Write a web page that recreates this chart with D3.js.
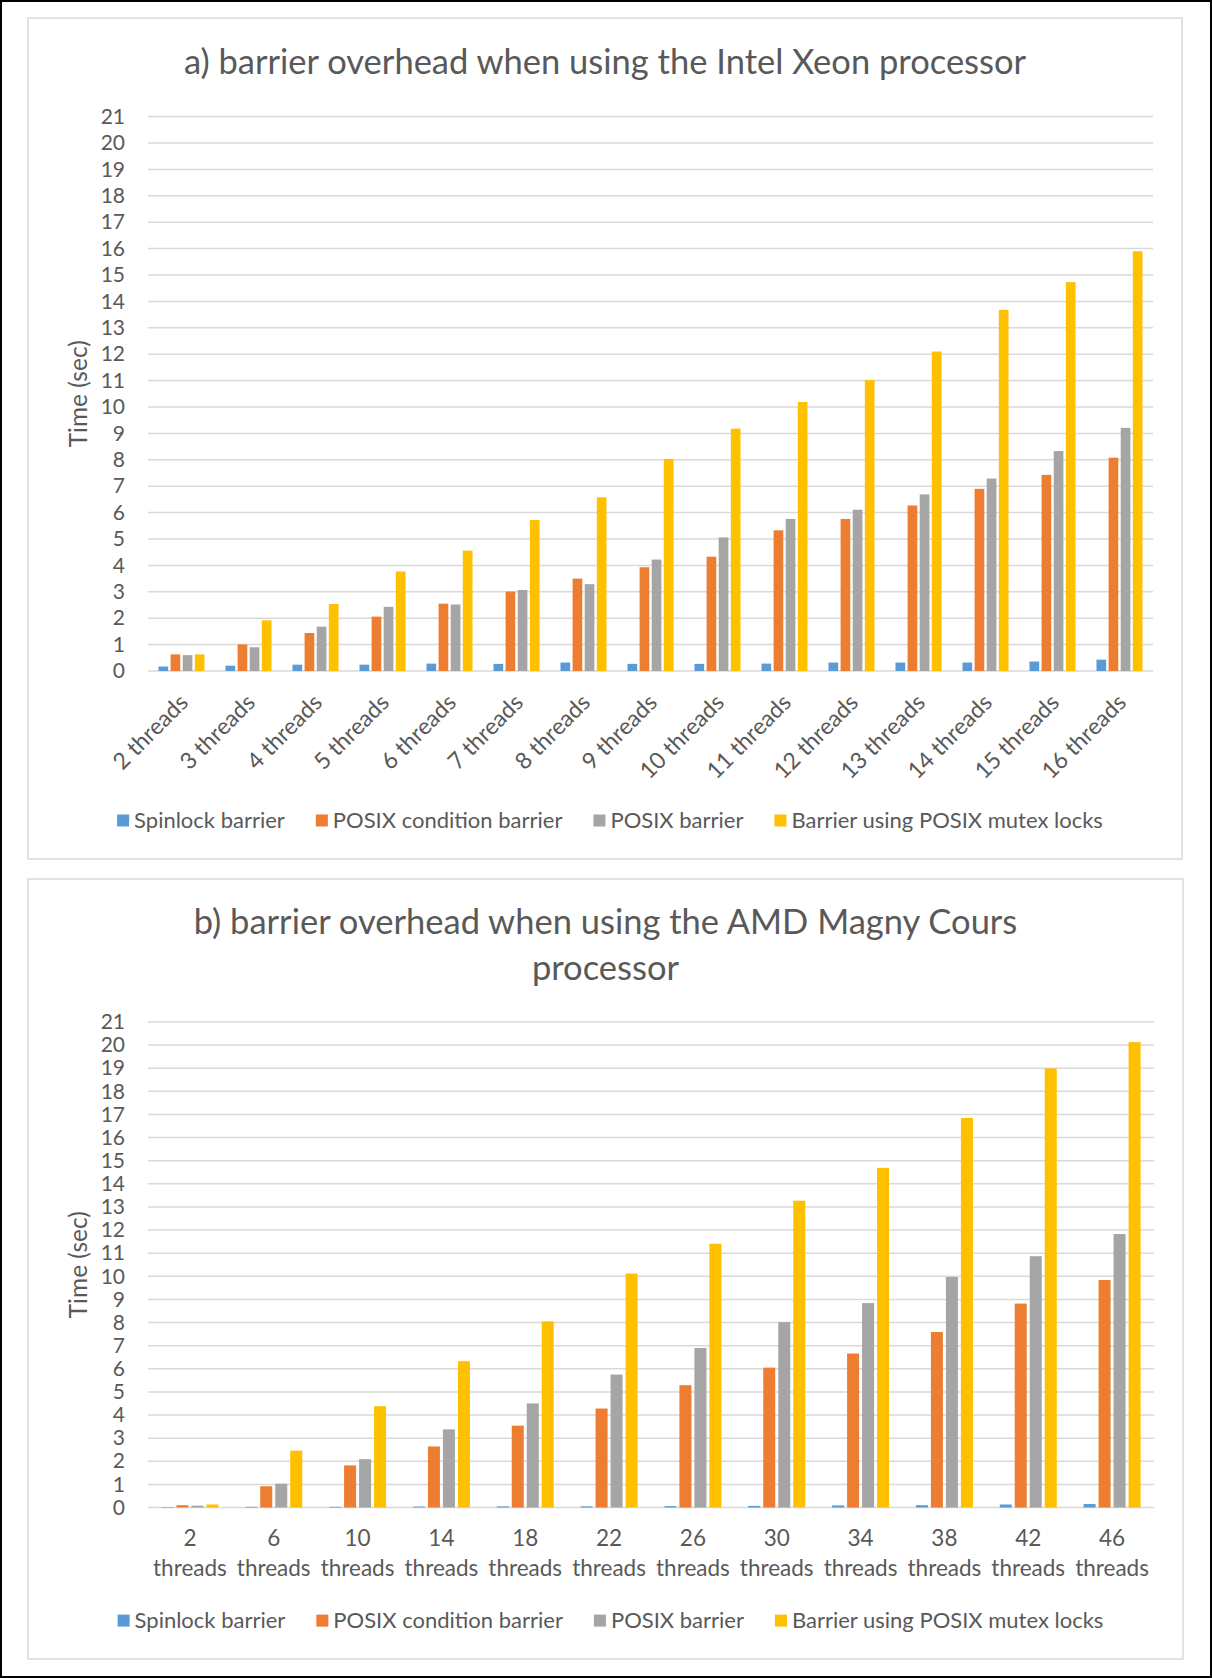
<!DOCTYPE html>
<meta charset="utf-8">
<style>

body {
  margin: 0;
  background: #fff;
}

text {
  font-family: Lato, "Open Sans", sans-serif;
  fill: #595959;
}

.grid line {
  stroke: #d9d9d9;
  stroke-width: 1.5;
}

.panel {
  fill: #fff;
  stroke: #d9d9d9;
  stroke-width: 1.5;
}

</style>
<body>
<script src="https://d3js.org/d3.v7.min.js"></script>
<script>

// series shared by both charts
var seriesNames = ["Spinlock barrier", "POSIX condition barrier", "POSIX barrier", "Barrier using POSIX mutex locks"];
var seriesColors = ["#5b9bd5", "#ed7d31", "#a5a5a5", "#ffc000"];
var yTicks = [0, 1, 2, 3, 4, 5, 6, 7, 8, 9, 10, 11, 12, 13, 14, 15, 16, 17, 18, 19, 20, 21];

// a) Intel Xeon
var threadsA = ["2 threads", "3 threads", "4 threads", "5 threads", "6 threads", "7 threads", "8 threads",
  "9 threads", "10 threads", "11 threads", "12 threads", "13 threads", "14 threads", "15 threads", "16 threads"];
var spinA  = [0.17, 0.20, 0.24, 0.24, 0.28, 0.27, 0.32, 0.27, 0.27, 0.28, 0.32, 0.32, 0.32, 0.36, 0.43];
var condA  = [0.63, 1.01, 1.44, 2.06, 2.55, 3.01, 3.50, 3.93, 4.33, 5.33, 5.76, 6.27, 6.90, 7.43, 8.08];
var posixA = [0.60, 0.90, 1.68, 2.43, 2.52, 3.07, 3.29, 4.22, 5.06, 5.76, 6.11, 6.69, 7.29, 8.33, 9.21];
var mutexA = [0.63, 1.92, 2.54, 3.77, 4.56, 5.72, 6.58, 8.03, 9.18, 10.19, 11.02, 12.10, 13.68, 14.73, 15.90];

// b) AMD Magny Cours
var threadsB = ["2 threads", "6 threads", "10 threads", "14 threads", "18 threads", "22 threads",
  "26 threads", "30 threads", "34 threads", "38 threads", "42 threads", "46 threads"];
var spinB  = [0.02, 0.03, 0.03, 0.04, 0.05, 0.05, 0.06, 0.07, 0.09, 0.10, 0.13, 0.15];
var condB  = [0.10, 0.92, 1.82, 2.64, 3.54, 4.28, 5.29, 6.05, 6.66, 7.59, 8.82, 9.84];
var posixB = [0.08, 1.03, 2.09, 3.38, 4.50, 5.75, 6.90, 8.02, 8.84, 9.97, 10.87, 11.83];
var mutexB = [0.13, 2.46, 4.38, 6.33, 8.05, 10.12, 11.41, 13.27, 14.69, 16.85, 18.99, 20.13];

var W = 1212, H = 1678;

var svg = d3.select("body").append("svg")
    .attr("width", W)
    .attr("height", H);

svg.append("rect")
    .attr("x", 1).attr("y", 1)
    .attr("width", W - 2).attr("height", H - 2)
    .attr("fill", "#fff")
    .attr("stroke", "#000")
    .attr("stroke-width", 2);

function drawChart(cfg) {
  var g = svg.append("g");

  g.append("rect")
      .attr("class", "panel")
      .attr("x", cfg.box[0]).attr("y", cfg.box[1])
      .attr("width", cfg.box[2]).attr("height", cfg.box[3]);

  var cx = cfg.box[0] + cfg.box[2] / 2;

  // title
  cfg.title.forEach(function(line, i) {
    g.append("text")
        .attr("x", cx)
        .attr("y", cfg.titleY + i * 46)
        .attr("dy", "0.35em")
        .attr("text-anchor", "middle")
        .style("font-size", "34.5px")
        .text(line);
  });

  var x0 = d3.scaleBand()
      .domain(cfg.cats)
      .range([cfg.left, cfg.right])
      .paddingInner(cfg.pad)
      .paddingOuter(cfg.pad / 2);

  var x1 = d3.scaleBand()
      .domain(seriesNames)
      .range([0, x0.bandwidth()])
      .paddingInner(0.2);

  var y = d3.scaleLinear()
      .domain([0, 21])
      .range([cfg.bottom, cfg.top]);

  var color = d3.scaleOrdinal().domain(seriesNames).range(seriesColors);

  // gridlines
  g.append("g")
      .attr("class", "grid")
    .selectAll("line")
    .data(yTicks)
    .enter().append("line")
      .attr("x1", cfg.left)
      .attr("x2", cfg.right)
      .attr("y1", function(d) { return y(d); })
      .attr("y2", function(d) { return y(d); });

  // y axis labels
  var yAxis = g.append("g")
      .attr("transform", "translate(" + cfg.left + ",0)")
      .call(d3.axisLeft(y).tickValues(yTicks).tickSize(0).tickPadding(23));
  yAxis.select(".domain").remove();
  yAxis.selectAll("text")
      .style("font-size", "21px")
      .style("font-family", "Lato, sans-serif")
      .attr("fill", "#595959");

  g.append("text")
      .attr("transform", "translate(78," + (cfg.top + cfg.bottom) / 2 + ") rotate(-90)")
      .attr("text-anchor", "middle")
      .attr("dy", "0.35em")
      .style("font-size", "24.5px")
      .text("Time (sec)");

  // bars
  var rows = cfg.cats.map(function(c, i) {
    return { cat: c, values: cfg.series.map(function(s, j) { return { name: seriesNames[j], v: s[i] }; }) };
  });

  g.selectAll(".group")
    .data(rows)
    .enter().append("g")
      .attr("class", "group")
      .attr("transform", function(d) { return "translate(" + x0(d.cat) + ",0)"; })
    .selectAll("rect")
    .data(function(d) { return d.values; })
    .enter().append("rect")
      .attr("x", function(d) { return x1(d.name); })
      .attr("width", x1.bandwidth())
      .attr("y", function(d) { return y(d.v); })
      .attr("height", function(d) { return y(0) - y(d.v); })
      .attr("fill", function(d) { return color(d.name); });

  // category labels
  var lab = g.append("g").selectAll("text")
    .data(cfg.cats)
    .enter().append("text");

  if (cfg.rotate) {
    lab.attr("text-anchor", "end")
        .style("font-size", "23px")
        .attr("transform", function(d) {
          return "translate(" + (x0(d) + x0.bandwidth() / 2 + 8) + "," + (cfg.bottom + 33) + ") rotate(-45)";
        })
        .text(function(d) { return d; });
  } else {
    lab.attr("text-anchor", "middle")
        .style("font-size", "22.5px")
        .attr("x", function(d) { return x0(d) + x0.bandwidth() / 2; })
        .each(function(d) {
          var parts = d.split(" ");
          var t = d3.select(this);
          parts.forEach(function(p, i) {
            t.append("tspan")
                .attr("x", t.attr("x"))
                .attr("y", cfg.bottom + 31 + i * 30)
                .attr("dy", "0.35em")
                .text(p);
          });
        });
  }

  // legend
  var leg = g.append("g");
  var items = leg.selectAll("g")
    .data(seriesNames)
    .enter().append("g");
  items.append("rect")
      .attr("width", 12).attr("height", 12)
      .attr("y", cfg.legendY - 6)
      .attr("fill", function(d) { return color(d); });
  items.append("text")
      .attr("x", 17)
      .attr("y", cfg.legendY)
      .attr("dy", "0.35em")
      .style("font-size", "22px")
      .text(function(d) { return d; });

  var widths = [];
  items.each(function() {
    widths.push(17 + d3.select(this).select("text").node().getComputedTextLength());
  });
  var gap = 31;
  var total = d3.sum(widths) + gap * (widths.length - 1);
  var pos = cx + 5 - total / 2;
  items.attr("transform", function(d, i) {
    var p = pos;
    pos += widths[i] + gap;
    return "translate(" + p + ",0)";
  });
}

drawChart({
  box: [28, 18, 1154, 841],
  title: ["a) barrier overhead when using the Intel Xeon processor"],
  titleY: 62,
  cats: threadsA,
  series: [spinA, condA, posixA, mutexA],
  left: 148, right: 1153, top: 116.6, bottom: 671,
  pad: 0.313,
  rotate: true,
  legendY: 820.5
});

drawChart({
  box: [28, 879, 1155, 780],
  title: ["b) barrier overhead when using the AMD Magny Cours", "processor"],
  titleY: 922,
  cats: threadsB,
  series: [spinB, condB, posixB, mutexB],
  left: 148, right: 1154, top: 1022, bottom: 1507.5,
  pad: 0.32,
  rotate: false,
  legendY: 1620.6
});

</script>
